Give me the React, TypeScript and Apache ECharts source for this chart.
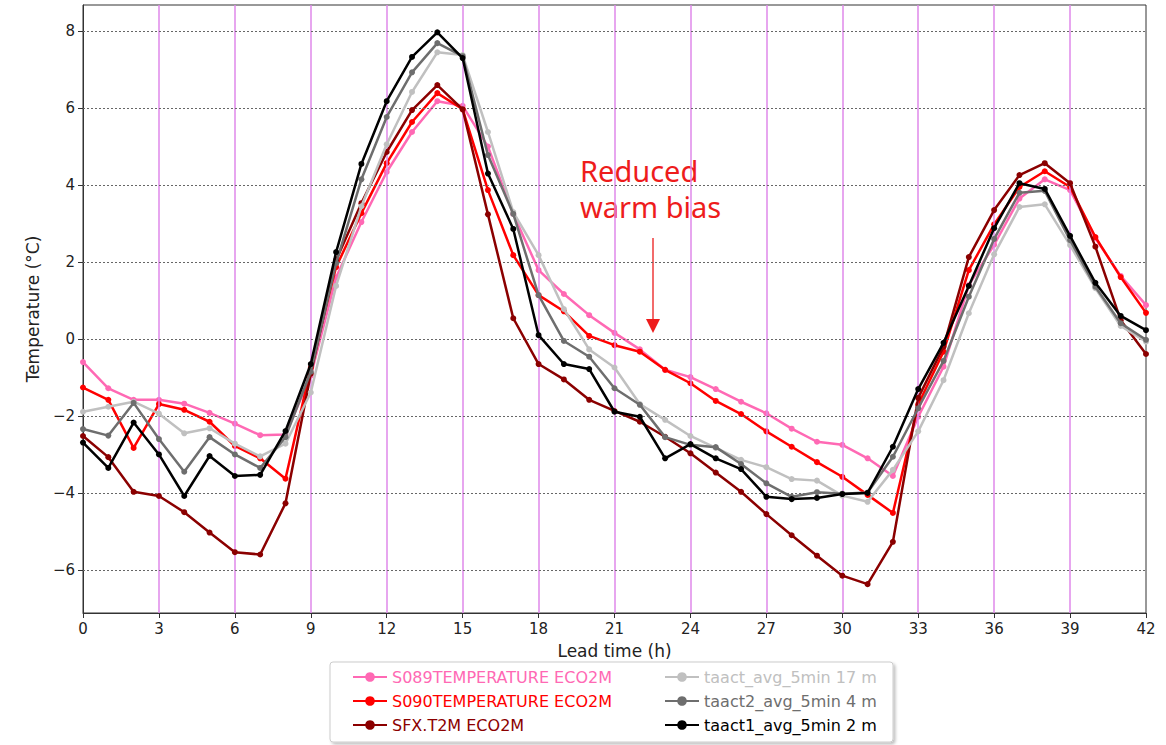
import React, { useEffect, useRef } from "react";
import * as echarts from "echarts";

// Lead time in hours, one value per hour
const hours: number[] = Array.from({ length: 43 }, (_, i) => i);

const s089: number[] = [
  -0.6, -1.28, -1.58, -1.58, -1.68, -1.92, -2.2, -2.5, -2.48, -0.95,
  1.6, 3.04, 4.34, 5.38, 6.18, 6.06, 5.0, 3.25, 1.79, 1.17,
  0.62, 0.16, -0.27, -0.8, -0.99, -1.3, -1.63, -1.93, -2.33, -2.67,
  -2.75, -3.1, -3.56, -2.02, -0.72, 1.4, 2.45, 3.65, 4.15, 3.87,
  2.62, 1.64, 0.88,
];
const s090: number[] = [
  -1.26, -1.58, -2.83, -1.69, -1.84, -2.15, -2.78, -3.1, -3.63, -0.75,
  1.87, 3.27, 4.57, 5.64, 6.39, 5.97, 3.87, 2.18, 1.14, 0.72,
  0.08, -0.16, -0.33, -0.8, -1.15, -1.61, -1.95, -2.4, -2.8, -3.2,
  -3.58, -4.05, -4.52, -1.7, -0.33, 1.79, 2.98, 3.95, 4.36, 3.95,
  2.65, 1.61, 0.68,
];
const sfxT2m: number[] = [
  -2.52, -3.07, -3.97, -4.08, -4.5, -5.03, -5.54, -5.6, -4.27, -0.9,
  2.05, 3.53, 4.86, 5.95, 6.6, 5.97, 3.24, 0.54, -0.65, -1.05,
  -1.58, -1.87, -2.15, -2.54, -2.97, -3.47, -3.97, -4.55, -5.1, -5.63,
  -6.15, -6.37, -5.27, -1.53, -0.2, 2.13, 3.35, 4.26, 4.57, 4.05,
  2.4, 0.49, -0.39,
];
const taact17m: number[] = [
  -1.89, -1.76, -1.63, -1.94, -2.45, -2.32, -2.72, -3.05, -2.72, -1.39,
  1.38, 3.45, 5.06, 6.42, 7.45, 7.38, 5.38, 3.3, 2.18, 0.78,
  -0.27, -0.74, -1.69, -2.1, -2.52, -2.83, -3.14, -3.33, -3.64, -3.68,
  -4.07, -4.23, -3.4, -2.4, -1.07, 0.67, 2.2, 3.43, 3.5, 2.44,
  1.32, 0.34, -0.07,
];
const taact4m: number[] = [
  -2.34, -2.51, -1.66, -2.6, -3.45, -2.55, -3.0, -3.35, -2.55, -0.85,
  1.97, 4.15, 5.77, 6.93, 7.69, 7.35, 4.78, 3.25, 1.14, -0.05,
  -0.46, -1.28, -1.71, -2.55, -2.75, -2.81, -3.25, -3.75, -4.1, -3.98,
  -4.02, -3.99, -3.06, -1.8, -0.57, 1.1, 2.6, 3.8, 3.85, 2.57,
  1.36, 0.41, -0.02,
];
const taact2m: number[] = [
  -2.69, -3.35, -2.17, -3.0, -4.08, -3.04, -3.56, -3.53, -2.39, -0.65,
  2.26, 4.55, 6.18, 7.33, 7.97, 7.3, 4.3, 2.86, 0.1, -0.65,
  -0.78, -1.89, -2.02, -3.1, -2.73, -3.1, -3.38, -4.1, -4.16, -4.13,
  -4.03, -4.0, -2.8, -1.3, -0.1, 1.38, 2.88, 4.05, 3.9, 2.68,
  1.46, 0.6, 0.23,
];

const seriesNames: string[] = [
  "S089TEMPERATURE ECO2M",
  "S090TEMPERATURE ECO2M",
  "SFX.T2M ECO2M",
  "taact_avg_5min 17 m",
  "taact2_avg_5min 4 m",
  "taact1_avg_5min 2 m",
];
const seriesColors: string[] = ["#ff69b4", "#ff0000", "#8b0000", "#c0c0c0", "#6e6e6e", "#000000"];
const seriesValues: number[][] = [s089, s090, sfxT2m, taact17m, taact4m, taact2m];

const yTicks: number[] = [-6, -4, -2, 0, 2, 4, 6, 8];
const xTickStep = 3;
const verticalGuides: number[] = [3, 6, 9, 12, 15, 18, 21, 24, 27, 30, 33, 36, 39];

const FONT = "DejaVu Sans";

export default function App() {
  const ref = useRef<HTMLDivElement>(null);

  useEffect(() => {
    if (!ref.current) return;
    const chart = echarts.init(ref.current, null, { renderer: "svg" });

    const lineSeries = seriesNames.map((name, i) => ({
      name,
      type: "line",
      data: hours.map((h, k) => [h, seriesValues[i][k]]),
      symbol: "circle",
      symbolSize: 6,
      showSymbol: true,
      lineStyle: { color: seriesColors[i], width: 2.5 },
      itemStyle: { color: seriesColors[i] },
      z: 3 + i,
      emphasis: { disabled: true },
    }));

    const guideSeries = {
      name: "guides",
      type: "line",
      data: [],
      z: 1,
      silent: true,
      markLine: {
        silent: true,
        symbol: ["none", "none"],
        label: { show: false },
        animation: false,
        data: [
          ...verticalGuides.map((v) => ({
            xAxis: v,
            lineStyle: { color: "#df88ea", width: 1.5, type: "solid" },
          })),
          ...yTicks.map((v) => ({
            yAxis: v,
            lineStyle: { color: "#666", width: 1, type: [2, 2] },
          })),
        ],
      },
    };

    const legendBase = {
      orient: "vertical",
      itemWidth: 34,
      itemHeight: 12,
      itemGap: 4,
      textStyle: { fontSize: 16, fontFamily: FONT, lineHeight: 20 },
      selectedMode: false,
    };

    const annotationText = {
      fill: "#ee1c1c",
      font: "29px 'Noto Sans'",
      align: "left",
      verticalAlign: "middle",
    };

    chart.setOption({
      animation: false,
      backgroundColor: "#ffffff",
      grid: {
        left: 83,
        right: 20,
        top: 5,
        bottom: 132,
        show: true,
        borderColor: "#333",
        borderWidth: 1,
        backgroundColor: "#ffffff",
      },
      xAxis: {
        type: "value",
        min: 0,
        max: 42,
        interval: xTickStep,
        name: "Lead time (h)",
        nameLocation: "middle",
        nameGap: 29,
        nameTextStyle: { fontSize: 17, fontFamily: FONT, color: "#222" },
        axisLine: { show: true, onZero: false, lineStyle: { color: "#333" } },
        axisTick: { show: true, length: 5, lineStyle: { color: "#333" } },
        axisLabel: { fontSize: 15, fontFamily: FONT, color: "#222", margin: 8 },
        splitLine: { show: false },
      },
      yAxis: {
        type: "value",
        min: -7.12,
        max: 8.68,
        name: "Temperature (°C)",
        nameLocation: "middle",
        nameGap: 42,
        nameTextStyle: { fontSize: 17, fontFamily: FONT, color: "#222" },
        axisLine: { show: true, onZero: false, lineStyle: { color: "#333" } },
        axisTick: { show: true, length: 5, customValues: yTicks, lineStyle: { color: "#333" } },
        axisLabel: {
          customValues: yTicks,
          fontSize: 15,
          fontFamily: FONT,
          color: "#222",
          margin: 8,
          formatter: (v: number) => String(v).replace("-", "\u2212"),
        },
        splitLine: { show: false },
      },
      legend: [
        {
          ...legendBase,
          left: 347,
          top: 662,
          data: seriesNames.slice(0, 3).map((n, i) => ({
            name: n,
            textStyle: { color: seriesColors[i] },
          })),
        },
        {
          ...legendBase,
          left: 659,
          top: 662,
          data: seriesNames.slice(3).map((n, i) => ({
            name: n,
            textStyle: { color: seriesColors[i + 3] },
          })),
        },
      ],
      graphic: [
        {
          type: "rect",
          z: 0,
          shape: { x: 330, y: 662, width: 563, height: 80, r: 3 },
          style: {
            fill: "#ffffff",
            stroke: "#cccccc",
            lineWidth: 1,
            shadowBlur: 3,
            shadowOffsetX: 2,
            shadowOffsetY: 2,
            shadowColor: "rgba(0,0,0,0.25)",
          },
        },
        {
          type: "group",
          z: 50,
          children: [
            {
              type: "rect",
              shape: { x: 557, y: 140, width: 188, height: 97 },
              style: { fill: "#ffffff" },
            },
            {
              type: "text",
              x: 580,
              y: 170,
              style: { ...annotationText, text: "Reduced" },
            },
            {
              type: "text",
              x: 580,
              y: 206,
              style: { ...annotationText, text: "warm bias" },
            },
            {
              type: "line",
              shape: { x1: 653, y1: 238, x2: 653, y2: 322 },
              style: { stroke: "#ee3a3a", lineWidth: 1.5 },
            },
            {
              type: "polygon",
              shape: { points: [[646, 319], [660, 319], [653, 333]] },
              style: { fill: "#ee1c1c" },
            },
          ],
        },
      ],
      series: [guideSeries, ...lineSeries],
    });

    return () => chart.dispose();
  }, []);

  return (
    <div
      ref={ref}
      style={{ position: "absolute", left: 0, top: 0, width: 1166, height: 745 }}
    />
  );
}
